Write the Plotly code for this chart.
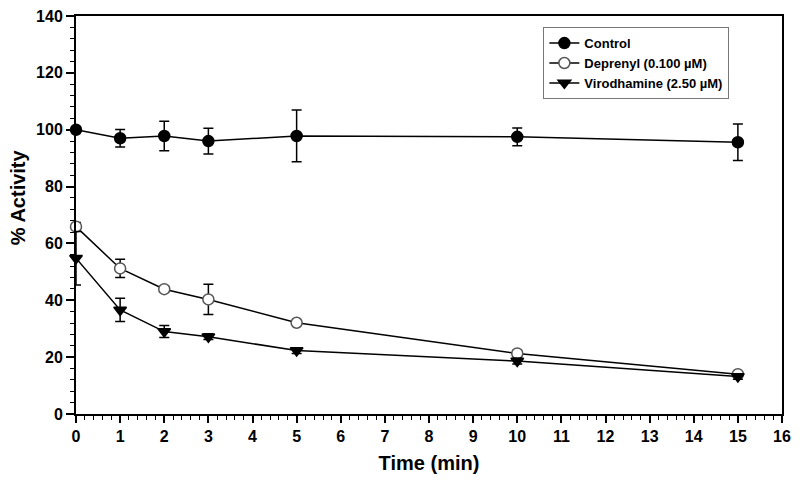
import plotly.graph_objects as go

time = [0, 1, 2, 3, 5, 10, 15]
control = [100.0, 97.0, 97.8, 96.0, 97.8, 97.5, 95.6]
control_err = [0.0, 3.1, 5.2, 4.5, 9.1, 3.1, 6.4]
deprenyl = [65.9, 51.2, 43.9, 40.3, 32.1, 21.3, 14.0]
deprenyl_err = [1.5, 3.2, 1.0, 5.3, 0.5, 1.0, 0.5]
virod = [54.8, 36.6, 29.0, 27.2, 22.3, 18.6, 13.2]
virod_err = [9.4, 4.1, 2.1, 1.0, 1.0, 1.0, 1.0]

names = ["Control", "Deprenyl (0.100 µM)", "Virodhamine (2.50 µM)"]
x_ticks = list(range(0, 17))
y_ticks = list(range(0, 141, 20))
x_title = "Time (min)"
y_title = "% Activity"

font_fam = "Arial, Liberation Sans, sans-serif"

fig = go.Figure()

def add(y, err, name, symbol, fill, line_col):
    fig.add_trace(go.Scatter(
        x=time, y=y, name=name, mode="lines+markers",
        line=dict(color="black", width=1.5),
        marker=dict(symbol=symbol, size=11, color=fill,
                    line=dict(color=line_col, width=1.5)),
        error_y=dict(type="data", array=err, visible=True,
                     color="black", thickness=1.5, width=5),
        cliponaxis=False,
    ))

add(control, control_err, names[0], "circle", "black", "black")
add(deprenyl, deprenyl_err, names[1], "circle", "white", "#555555")
add(virod, virod_err, names[2], "triangle-down", "black", "black")

axis_common = dict(
    showline=True, linecolor="black", linewidth=2, mirror=True,
    showgrid=False, zeroline=False, ticks="outside", tickcolor="black",
    tickwidth=1.5, automargin=False, ticklabeloverflow="allow",
    tickfont=dict(family=font_fam, size=16, color="black", weight="bold"),
)

fig.update_xaxes(
    **axis_common, range=[0, 16], tickvals=x_ticks, ticklen=7,
    minor=dict(dtick=0.2, ticklen=4, ticks="outside", tickcolor="black", tickwidth=1),
    title=dict(text=x_title, font=dict(family=font_fam, size=20, color="black", weight="bold"), standoff=12),
)
fig.update_yaxes(
    **axis_common, range=[0, 140], tickvals=y_ticks, ticklen=8,
    minor=dict(dtick=4, ticklen=4, ticks="outside", tickcolor="black", tickwidth=1),
)

fig.add_annotation(
    text=y_title, textangle=-90, xref="paper", yref="paper",
    x=-0.082, y=0.545, xanchor="center", yanchor="middle", showarrow=False,
    font=dict(family=font_fam, size=20, color="black", weight="bold"),
)

fig.update_layout(
    width=800, height=486,
    margin=dict(l=76, r=18, t=16, b=72, autoexpand=False),
    plot_bgcolor="white", paper_bgcolor="white",
    showlegend=True,
    legend=dict(
        x=0.662, y=0.972, xanchor="left", yanchor="top",
        bgcolor="white", bordercolor="#777777", borderwidth=1,
        font=dict(family=font_fam, size=13, color="black", weight="bold"),
        tracegroupgap=0, itemwidth=30,
    ),
)

fig.write_html(
    "out.html",
    config={"displayModeBar": False},
    post_script="document.body.style.margin='0px';document.body.style.overflow='hidden';",
)
